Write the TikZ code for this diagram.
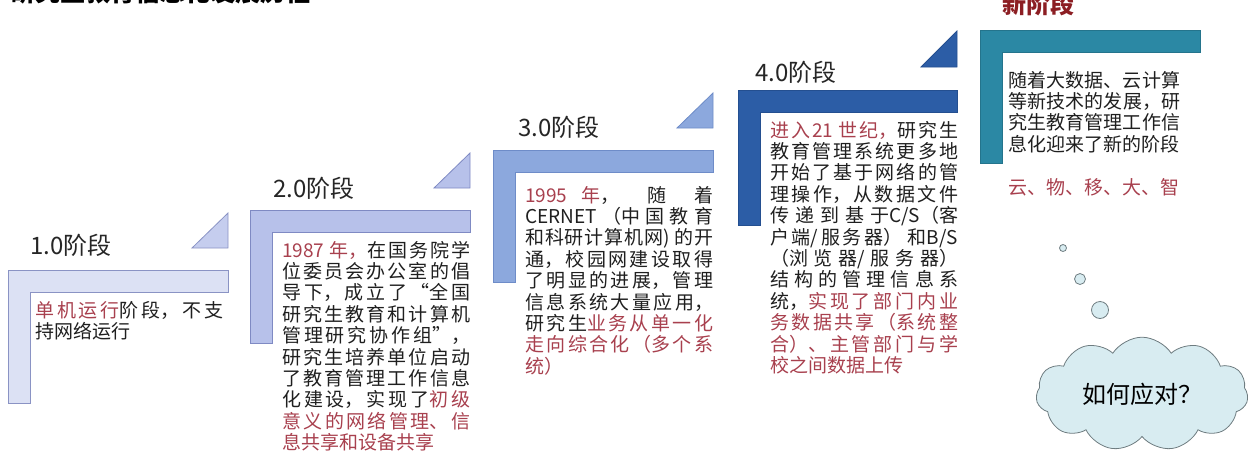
\documentclass[tikz,border=0pt]{standalone}
\usepackage{fontspec}
\setmainfont{Noto Sans CJK SC}
\usepackage{tikz}
\usetikzlibrary{shapes.symbols}

\definecolor{stagered}{HTML}{A8404E}
\definecolor{newred}{HTML}{8C1E23}
\definecolor{onefill}{HTML}{DCE1F4}
\definecolor{oneline}{HTML}{8A93C4}
\definecolor{twofill}{HTML}{B7C1EA}
\definecolor{twoline}{HTML}{7F8AC3}
\definecolor{threefill}{HTML}{8CA8DD}
\definecolor{threeline}{HTML}{6E8CC8}
\definecolor{fourfill}{HTML}{2C5DA6}
\definecolor{fourline}{HTML}{244F90}
\definecolor{newfill}{HTML}{2B88A4}
\definecolor{newline}{HTML}{24748C}
\definecolor{cloudfill}{HTML}{D8ECF1}
\definecolor{cloudline}{HTML}{6E7C80}

\newcommand\bodyfont{\fontsize{19}{21.4}\selectfont\XeTeXlinebreaklocale "zh"\XeTeXlinebreakskip=0pt plus 6pt\relax\tolerance=9999\relax}
\newcommand\redtx[1]{\textcolor{stagered}{#1}}

\begin{document}
\begin{tikzpicture}[x=1pt,y=-1pt,
    stagetitle/.style={anchor=base west, inner sep=0pt, font=\fontsize{24}{28}\selectfont, text=black!85},
    stagebody/.style={anchor=base west, inner sep=0pt, text width=188pt, align=justify, font=\bodyfont, text=black!88},
    stepbar/.style={line width=0.8pt, line join=miter},
    bubble/.style={circle, draw=cloudline, fill=cloudfill, line width=0.8pt, inner sep=0pt}]

        \useasboundingbox (0,0) rectangle (1248,475);
        \node[anchor=base west, inner sep=0pt, font=\fontsize{25}{28}\selectfont\bfseries] (maintitle) at (10,1) {研究生教育信息化发展历程};

        % 1.0
        \draw[stepbar, draw=oneline, fill=onefill] (8,270) -- (228,270) -- (228,292) -- (30,292) -- (30,403) -- (8,403) -- cycle;
        \draw[stepbar, draw=oneline, fill=twofill!80] (192,248) -- (228,248) -- (228,213) -- cycle;
        \node[stagetitle] (title1) at (30,254) {1.0阶段};
        \node[stagebody] (body1) at (35,317) {\redtx{单机运行}阶段，不支\linebreak 持网络运行};

        % 2.0
        \draw[stepbar, draw=twoline, fill=twofill] (250,210) -- (470,210) -- (470,232) -- (272,232) -- (272,343) -- (250,343) -- cycle;
        \draw[stepbar, draw=twoline, fill=twofill] (434,188) -- (470,188) -- (470,153) -- cycle;
        \node[stagetitle] (title2) at (273,197) {2.0阶段};
        \node[stagebody] (body2) at (282,257) {\redtx{1987 年，}在国务院学\linebreak 位委员会办公室的倡\linebreak 导下，成立了“全国\linebreak 研究生教育和计算机\linebreak 管理研究协作组”，\linebreak 研究生培养单位启动\linebreak 了教育管理工作信息\linebreak 化建设，实现了\redtx{初级}\linebreak \redtx{意义的网络管理、信}\linebreak \redtx{息共享和设备共享}};

        % 3.0
        \draw[stepbar, draw=threeline, fill=threefill] (493,150) -- (713,150) -- (713,172) -- (515,172) -- (515,282) -- (493,282) -- cycle;
        \draw[stepbar, draw=threeline, fill=threefill] (677,128) -- (713,128) -- (713,93) -- cycle;
        \node[stagetitle] (title3) at (518,136) {3.0阶段};
        \node[stagebody] (body3) at (525,202) {\redtx{1995 年}，随着\linebreak CERNET（中国教育\linebreak 和科研计算机网) 的开\linebreak 通，校园网建设取得\linebreak 了明显的进展，管理\linebreak 信息系统大量应用，\linebreak 研究生\redtx{业务从单一化}\linebreak \redtx{走向综合化（多个系}\linebreak \redtx{统）}};

        % 4.0
        \draw[stepbar, draw=fourline, fill=fourfill] (738,90) -- (957,90) -- (957,112) -- (760,112) -- (760,225) -- (738,225) -- cycle;
        \draw[stepbar, draw=fourline, fill=fourfill] (921,67) -- (957,67) -- (957,31) -- cycle;
        \node[stagetitle] (title4) at (755,81) {4.0阶段};
        \node[stagebody] (body4) at (770,137) {\redtx{进入21 世纪，}研究生\linebreak 教育管理系统更多地\linebreak 开始了基于网络的管\linebreak 理操作，从数据文件\linebreak 传递到基于\mbox{C/S}（客\linebreak 户端/服务器） 和\mbox{B/S}\linebreak （浏览器/服务器）\linebreak 结构的管理信息系\linebreak 统，\redtx{实现了部门内业}\linebreak \redtx{务数据共享（系统整}\linebreak \redtx{合）、主管部门与学}\linebreak \redtx{校之间数据上传}};

        % new stage
        \draw[stepbar, draw=newline, fill=newfill] (980,30) -- (1200,30) -- (1200,52) -- (1002,52) -- (1002,163) -- (980,163) -- cycle;
        \node[stagetitle, font=\fontsize{24}{28}\selectfont\bfseries, text=newred] (title5) at (1002,13) {新阶段};
        \node[stagebody, text width=172pt] (body5) at (1008,87) {随着大数据、云计算\linebreak 等新技术的发展，研\linebreak 究生教育管理工作信\linebreak 息化迎来了新的阶段};
        \node[anchor=base west, inner sep=0pt, font=\bodyfont, text=stagered] (keywords) at (1008,194) {云、物、移、大、智};

        % cloud
        \node[bubble, minimum size=7pt] (bub1) at (1063,248) {};
        \node[bubble, minimum size=11pt] (bub2) at (1080,279) {};
        \node[bubble, minimum size=17pt] (bub3) at (1100,310) {};
        \node[cloud, cloud puffs=11, cloud puff arc=115, aspect=2, minimum width=212pt, minimum height=106pt, draw=cloudline, fill=cloudfill, line width=0.8pt, font=\fontsize{24}{27}\selectfont] (howto) at (1142,394) {如何应对？};
    \end{tikzpicture}
\end{document}
